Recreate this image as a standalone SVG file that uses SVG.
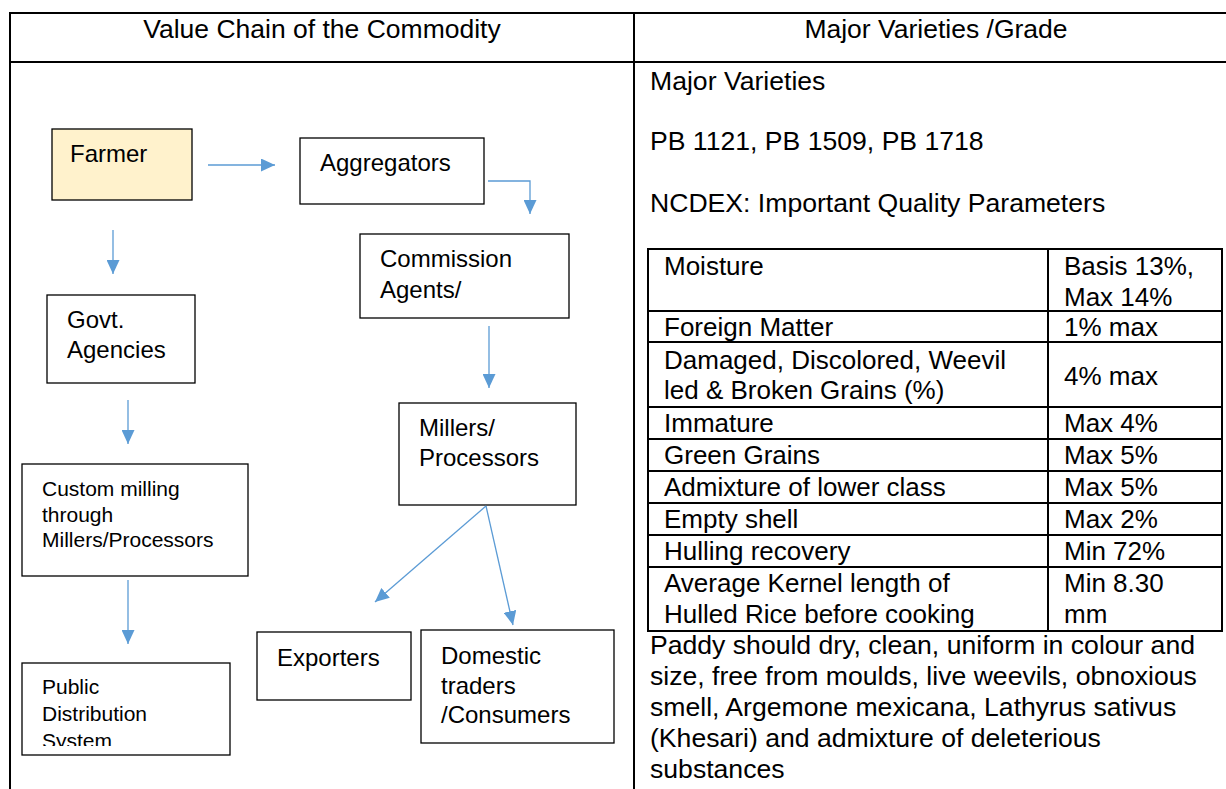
<svg xmlns="http://www.w3.org/2000/svg" width="1226" height="789" viewBox="0 0 1226 789">
<style>
text{font-family:"Liberation Sans",Arial,sans-serif;fill:#000}
.h{font-size:24px}
.hd{font-size:26.5px}
.t{font-size:26px}
.p{font-size:26.6px}
.s{font-size:21px}
.box{fill:#fff;stroke:#000;stroke-width:1.3}
.grid{stroke:#000;stroke-width:2;fill:none}
.conn{stroke:#5B9BD5;stroke-width:1.3;fill:none;marker-end:url(#ah)}
</style>
<defs>
<marker id="ah" markerUnits="userSpaceOnUse" markerWidth="14" markerHeight="13" refX="14" refY="6.5" orient="auto">
<path d="M0,0 L14,6.5 L0,13 Z" fill="#5B9BD5"/>
</marker>
<clipPath id="cpComm"><rect x="360" y="234" width="209" height="77"/></clipPath>
<clipPath id="cpPub"><rect x="22" y="663" width="208" height="83"/></clipPath>
</defs>
<rect width="1226" height="789" fill="#fff"/>
<g id="frame" class="grid">
<line x1="10" y1="13" x2="1226" y2="13"/>
<line x1="10" y1="62" x2="1226" y2="62"/>
<line x1="10" y1="12" x2="10" y2="789"/>
<line x1="634" y1="12" x2="634" y2="789"/>
</g>
<text class="hd" x="322" y="38" text-anchor="middle">Value Chain of the Commodity</text>
<text class="hd" x="936" y="38" text-anchor="middle">Major Varieties /Grade</text>

<g id="farmer"><rect x="52" y="129" width="140" height="71" fill="#FFF2CC" stroke="#000" stroke-width="1.3"/><text class="h" x="70" y="162">Farmer</text></g>
<g id="aggregators"><rect class="box" x="300" y="138" width="184" height="66"/><text class="h" x="320" y="171">Aggregators</text></g>
<g id="commission"><rect class="box" x="360" y="234" width="209" height="84"/><g clip-path="url(#cpComm)"><text class="h" x="380" y="267">Commission</text><text class="h" x="380" y="298">Agents/</text><text class="h" x="380" y="329">Traders</text></g></g>
<g id="govt"><rect class="box" x="47" y="295" width="148" height="88"/><text class="h" x="67" y="328">Govt.</text><text class="h" x="67" y="358">Agencies</text></g>
<g id="millers"><rect class="box" x="399" y="403" width="177" height="102"/><text class="h" x="419" y="436">Millers/</text><text class="h" x="419" y="466">Processors</text></g>
<g id="custom"><rect class="box" x="22" y="464" width="226" height="112"/><text class="s" x="42" y="496">Custom milling</text><text class="s" x="42" y="522">through</text><text class="s" x="42" y="547">Millers/Processors</text></g>
<g id="pds"><rect class="box" x="22" y="663" width="208" height="92"/><g clip-path="url(#cpPub)"><text class="s" x="42" y="694">Public</text><text class="s" x="42" y="721">Distribution</text><text class="s" x="42" y="748">System</text></g></g>
<g id="exporters"><rect class="box" x="257" y="632" width="154" height="68"/><text class="h" x="277" y="666">Exporters</text></g>
<g id="domestic"><rect class="box" x="421" y="630" width="193" height="113"/><text class="h" x="441" y="664">Domestic</text><text class="h" x="441" y="694">traders</text><text class="h" x="441" y="723">/Consumers</text></g>

<g id="connectors">
<line class="conn" x1="208" y1="165" x2="275" y2="165"/>
<polyline class="conn" points="488,181 530,181 530,214"/>
<line class="conn" x1="113" y1="230" x2="113" y2="274"/>
<line class="conn" x1="128" y1="400" x2="128" y2="444"/>
<line class="conn" x1="128" y1="580" x2="128" y2="644"/>
<line class="conn" x1="489" y1="326" x2="489" y2="388"/>
<line class="conn" x1="486" y1="506" x2="375" y2="602"/>
<line class="conn" x1="486" y1="506" x2="513" y2="625"/>
</g>

<g id="varieties">
<text class="p" x="650" y="90">Major Varieties</text>
<text class="p" x="650" y="150">PB 1121, PB 1509, PB 1718</text>
<text class="p" x="650" y="212">NCDEX: Important Quality Parameters</text>
</g>
<g id="quality-table">
<rect class="grid" x="648" y="249" width="574" height="382"/>
<g class="grid">
<line x1="1048" y1="249" x2="1048" y2="631"/>
<line x1="648" y1="311" x2="1222" y2="311"/>
<line x1="648" y1="342" x2="1222" y2="342"/>
<line x1="648" y1="407" x2="1222" y2="407"/>
<line x1="648" y1="439" x2="1222" y2="439"/>
<line x1="648" y1="471" x2="1222" y2="471"/>
<line x1="648" y1="503" x2="1222" y2="503"/>
<line x1="648" y1="535" x2="1222" y2="535"/>
<line x1="648" y1="567" x2="1222" y2="567"/>
</g>
<text class="t" x="664" y="275">Moisture</text>
<text class="t" x="1064" y="275">Basis 13%,</text>
<text class="t" x="1064" y="306">Max 14%</text>
<text class="t" x="664" y="336">Foreign Matter</text>
<text class="t" x="1064" y="336">1% max</text>
<text class="t" x="664" y="369">Damaged, Discolored, Weevil</text>
<text class="t" x="664" y="399">led &amp; Broken Grains (%)</text>
<text class="t" x="1064" y="385">4% max</text>
<text class="t" x="664" y="432">Immature</text>
<text class="t" x="1064" y="432">Max 4%</text>
<text class="t" x="664" y="464">Green Grains</text>
<text class="t" x="1064" y="464">Max 5%</text>
<text class="t" x="664" y="496">Admixture of lower class</text>
<text class="t" x="1064" y="496">Max 5%</text>
<text class="t" x="664" y="528">Empty shell</text>
<text class="t" x="1064" y="528">Max 2%</text>
<text class="t" x="664" y="560">Hulling recovery</text>
<text class="t" x="1064" y="560">Min 72%</text>
<text class="t" x="664" y="592">Average Kernel length of</text>
<text class="t" x="664" y="623">Hulled Rice before cooking</text>
<text class="t" x="1064" y="592">Min 8.30</text>
<text class="t" x="1064" y="623">mm</text>
</g>
<g id="note">
<text class="p" x="650" y="654">Paddy should dry, clean, uniform in colour and</text>
<text class="p" x="650" y="685">size, free from moulds, live weevils, obnoxious</text>
<text class="p" x="650" y="716">smell, Argemone mexicana, Lathyrus sativus</text>
<text class="p" x="650" y="747">(Khesari) and admixture of deleterious</text>
<text class="p" x="650" y="778">substances</text>
</g>
</svg>
